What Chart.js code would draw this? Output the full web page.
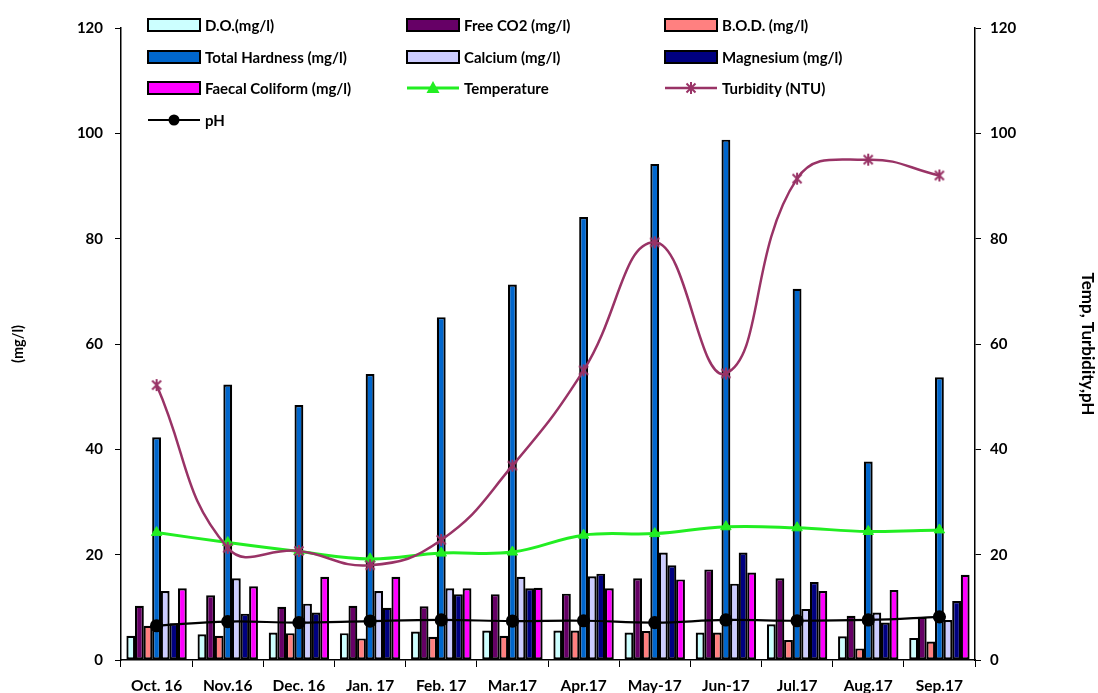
<!DOCTYPE html>
<html>
<head>
<meta charset="utf-8">
<title>Water quality parameters, Oct 2016 – Sep 2017</title>
<script src="https://cdn.jsdelivr.net/npm/chart.js@4.4.1/dist/chart.umd.min.js"></script>
<style>
  html, body { margin: 0; padding: 0; background: #ffffff; }
  #wrap { width: 1098px; height: 693px; position: relative; }
</style>
</head>
<body>
<div id="wrap"><canvas id="chart" width="1098" height="693"></canvas></div>
<script>
// Monthly sampling periods
const months = ['Oct. 16', 'Nov.16', 'Dec. 16', 'Jan. 17', 'Feb. 17', 'Mar.17',
                'Apr.17', 'May-17', 'Jun-17', 'Jul.17', 'Aug.17', 'Sep.17'];

// Parameters in mg/l (left axis)
const dissolvedOxygen = [4.6, 4.9, 5.2, 5.1, 5.4, 5.6, 5.6, 5.2, 5.2, 6.8, 4.5, 4.2];
const freeCO2         = [10.3, 12.3, 10.1, 10.3, 10.2, 12.5, 12.6, 15.5, 17.2, 15.5, 8.4, 8.2];
const bod             = [6.5, 4.6, 5.1, 4.1, 4.4, 4.6, 5.6, 5.5, 5.2, 3.8, 2.2, 3.5];
const totalHardness   = [42.3, 52.3, 48.4, 54.3, 65.1, 71.3, 84.1, 94.2, 98.8, 70.5, 37.7, 53.7];
const calcium         = [13.1, 15.5, 10.7, 13.1, 13.6, 15.8, 15.9, 20.4, 14.5, 9.7, 9.0, 7.6];
const magnesium       = [7.0, 8.8, 9.0, 9.9, 12.5, 13.6, 16.4, 18.0, 20.4, 14.8, 7.1, 11.2];
const faecalColiform  = [13.6, 14.0, 15.8, 15.8, 13.6, 13.7, 13.6, 15.3, 16.6, 13.1, 13.3, 16.2];

// Temperature, turbidity (NTU) and pH (right axis)
const temperature = [24.2, 22.3, 20.6, 19.2, 20.3, 20.5, 23.7, 24.0, 25.3, 25.1, 24.4, 24.7];
const turbidity   = [52.2, 21.3, 20.7, 18.0, 22.8, 36.9, 55.0, 79.3, 54.4, 91.4, 95.0, 92.0];
const pH          = [6.5, 7.3, 7.1, 7.4, 7.6, 7.4, 7.45, 7.1, 7.6, 7.45, 7.6, 8.2];

// Axis tick values shared by both vertical axes
const axisTicks = [0, 20, 40, 60, 80, 100, 120];

const FONT = 'Lato, "Liberation Sans", Arial, sans-serif';

// Asterisk-style marker used for the turbidity series
function asteriskMarker(color) {
  const c = document.createElement('canvas');
  c.width = 14; c.height = 14;
  const g = c.getContext('2d');
  g.strokeStyle = color;
  g.lineWidth = 2;
  g.beginPath();
  g.moveTo(2.5, 2.5); g.lineTo(11.5, 11.5);
  g.moveTo(11.5, 2.5); g.lineTo(2.5, 11.5);
  g.moveTo(7, 1); g.lineTo(7, 13);
  g.stroke();
  return c;
}

function barSet(label, data, color) {
  return {
    type: 'bar', label, data,
    backgroundColor: color,
    borderColor: '#000000',
    borderWidth: 2.2,
    borderSkipped: false,
    yAxisID: 'y',
    order: 10,
    categoryPercentage: 0.845,
    barPercentage: 1.03
  };
}

const turbColor = '#993366';

const datasets = [
  barSet('D.O.(mg/l)', dissolvedOxygen, '#CCFFFF'),
  barSet('Free CO2 (mg/l)', freeCO2, '#660066'),
  barSet('B.O.D. (mg/l)', bod, '#FF8080'),
  barSet('Total Hardness (mg/l)', totalHardness, '#0066CC'),
  barSet('Calcium (mg/l)', calcium, '#CCCCFF'),
  barSet('Magnesium (mg/l)', magnesium, '#000080'),
  barSet('Faecal Coliform (mg/l)', faecalColiform, '#FF00FF'),
  {
    type: 'line', label: 'Temperature', data: temperature,
    borderColor: '#22EE22', backgroundColor: '#22EE22',
    borderWidth: 3, tension: 0.4, fill: false,
    pointStyle: 'triangle', pointRadius: 6, pointBorderWidth: 1,
    yAxisID: 'y2', order: 2
  },
  {
    type: 'line', label: 'Turbidity (NTU)', data: turbidity,
    borderColor: turbColor, backgroundColor: turbColor,
    borderWidth: 2.5, tension: 0.45, fill: false,
    pointStyle: asteriskMarker(turbColor), pointRadius: 7,
    yAxisID: 'y2', order: 1
  },
  {
    type: 'line', label: 'pH', data: pH,
    borderColor: '#000000', backgroundColor: '#000000',
    borderWidth: 2.2, tension: 0.4, fill: false,
    pointStyle: 'circle', pointRadius: 5.5,
    yAxisID: 'y2', order: 0
  }
];

// Legend drawn inside the plot area, three entries per row
const innerLegend = {
  id: 'innerLegend',
  afterDraw(chart) {
    const ctx = chart.ctx;
    const colX = [148, 407, 665];
    const rowY = [25, 57, 88, 120];
    const boxW = 52, boxH = 12;
    ctx.save();
    ctx.font = 'bold 15px ' + FONT;
    ctx.textBaseline = 'middle';
    ctx.textAlign = 'left';
    chart.data.datasets.forEach((ds, i) => {
      const x = colX[i % 3];
      const y = rowY[Math.floor(i / 3)];
      if (ds.type === 'bar') {
        ctx.fillStyle = ds.backgroundColor;
        ctx.fillRect(x, y - boxH / 2, boxW, boxH);
        ctx.lineWidth = 2;
        ctx.strokeStyle = '#000';
        ctx.strokeRect(x, y - boxH / 2, boxW, boxH);
      } else {
        ctx.strokeStyle = ds.borderColor;
        ctx.lineWidth = ds.borderWidth;
        ctx.beginPath();
        ctx.moveTo(x, y); ctx.lineTo(x + boxW, y);
        ctx.stroke();
        const cx = x + boxW / 2;
        if (ds.pointStyle === 'triangle') {
          ctx.fillStyle = ds.backgroundColor;
          ctx.beginPath();
          ctx.moveTo(cx, y - 7); ctx.lineTo(cx + 6.5, y + 5); ctx.lineTo(cx - 6.5, y + 5);
          ctx.closePath(); ctx.fill();
        } else if (ds.pointStyle === 'circle') {
          ctx.fillStyle = ds.backgroundColor;
          ctx.beginPath(); ctx.arc(cx, y, 5.5, 0, Math.PI * 2); ctx.fill();
        } else {
          ctx.drawImage(ds.pointStyle, cx - 7, y - 7);
        }
      }
      ctx.fillStyle = '#000';
      ctx.fillText(ds.label, x + boxW + 5, y + 1);
    });
    ctx.restore();
  }
};

const tickFont = { family: FONT, size: 15, weight: 'bold' };

new Chart(document.getElementById('chart'), {
  data: { labels: months, datasets },
  options: {
    responsive: false,
    animation: false,
    devicePixelRatio: 1,
    layout: { padding: { top: 28, right: 0, bottom: 0, left: 0 } },
    plugins: {
      legend: { display: false },
      tooltip: { enabled: false }
    },
    scales: {
      x: {
        type: 'category',
        offset: true,
        grid: { offset: true, drawOnChartArea: false, tickLength: 7, color: '#000', lineWidth: 1 },
        border: { color: '#000', width: 1.5 },
        ticks: { color: '#000', font: { family: FONT, size: 15.5, weight: 'bold' }, padding: 10, maxRotation: 0, autoSkip: false },
        afterFit(s) { s.height = 33; }
      },
      y: {
        position: 'left',
        min: 0, max: 120,
        afterBuildTicks(s) { s.ticks = axisTicks.map(v => ({ value: v })); },
        grid: { drawOnChartArea: false, tickLength: 6, color: '#000' },
        border: { color: '#000', width: 1.5 },
        ticks: { color: '#000', font: tickFont, padding: 12 },
        title: { display: true, text: '(mg/l)', color: '#000', font: { family: FONT, size: 14.5, weight: 'bold' }, padding: { top: 10, bottom: 0 } },
        afterFit(s) { s.width = 121; }
      },
      y2: {
        position: 'right',
        min: 0, max: 120,
        afterBuildTicks(s) { s.ticks = axisTicks.map(v => ({ value: v })); },
        grid: { drawOnChartArea: false, tickLength: 6, color: '#000' },
        border: { color: '#000', width: 1.5 },
        ticks: { color: '#000', font: tickFont, padding: 9 },
        title: { display: true, text: 'Temp, Turbidity,pH', color: '#000', font: { family: FONT, size: 17, weight: 'bold' }, padding: { top: 0, bottom: 0 } },
        afterFit(s) { s.width = 123; }
      }
    }
  },
  plugins: [innerLegend]
});
</script>
</body>
</html>
